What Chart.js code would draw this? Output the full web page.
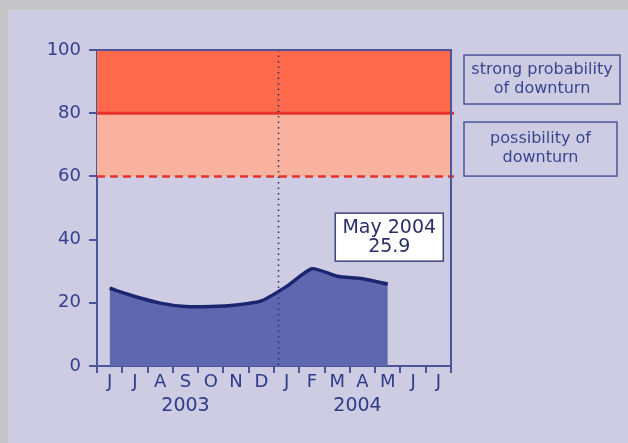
<!DOCTYPE html>
<html>
<head>
<meta charset="utf-8">
<script src="https://cdn.jsdelivr.net/npm/chart.js@4/dist/chart.umd.min.js"></script>
<style>
  html, body { margin: 0; padding: 0; background: #cdcce3; }
  #wrap { width: 628px; height: 443px; position: relative; }
</style>
</head>
<body>
<div id="wrap"><canvas id="grafico" width="628" height="443"></canvas></div>
<script>
// ---- DATA ----
const meses = ["J","J","A","S","O","N","D","J","F","M","A","M","J","J"];
const valores = [24.6, 22.0, 19.9, 18.8, 18.8, 19.3, 20.6, 25.2, 30.8, 28.4, 27.6, 25.9, null, null];
const anos = ["2003", "2004"];
const yTicks = [0, 20, 40, 60, 80, 100];
const zonaForte = [80, 100];
const zonaPossivel = [60, 80];
const legendaForte = ["strong probability", "of downturn"];
const legendaPossivel = ["possibility of", "downturn"];
const nota = ["May 2004", "25.9"];

const AZUL = "#2e3a8a";
const FONTE = "'DejaVu Sans', sans-serif";

// ---- EXTRAS DESENHADOS ----
const extras = {
  id: "extras",
  beforeDraw(chart) {
    const c = chart.ctx;
    c.save();
    c.fillStyle = "#cdcce3";
    c.fillRect(0, 0, chart.width, chart.height);
    c.fillStyle = "#c6c6c8";
    c.fillRect(0, 0, chart.width, 10);
    c.fillRect(0, 0, 8, chart.height);
    c.restore();
  },
  beforeDatasetsDraw(chart) {
    const c = chart.ctx, a = chart.chartArea, y = chart.scales.y;
    c.save();
    // zonas
    c.fillStyle = "#fe6a4b";
    c.fillRect(a.left, y.getPixelForValue(zonaForte[1]), a.right - a.left,
      y.getPixelForValue(zonaForte[0]) - y.getPixelForValue(zonaForte[1]));
    c.fillStyle = "#f8b29e";
    c.fillRect(a.left, y.getPixelForValue(zonaPossivel[1]), a.right - a.left,
      y.getPixelForValue(zonaPossivel[0]) - y.getPixelForValue(zonaPossivel[1]));
    // linha 80
    c.strokeStyle = "#e8322c";
    c.lineWidth = 3;
    c.beginPath();
    c.moveTo(a.left, y.getPixelForValue(zonaForte[0]));
    c.lineTo(a.right + 3, y.getPixelForValue(zonaForte[0]));
    c.stroke();
    // linha 60 tracejada
    c.lineWidth = 2.5;
    c.setLineDash([8, 5]);
    c.beginPath();
    c.moveTo(a.left, y.getPixelForValue(zonaPossivel[0]));
    c.lineTo(a.right + 3, y.getPixelForValue(zonaPossivel[0]));
    c.stroke();
    c.setLineDash([]);
    c.restore();
  },
  afterDatasetsDraw(chart) {
    const c = chart.ctx, a = chart.chartArea, y = chart.scales.y, x = chart.scales.x;
    c.save();
    // linha vertical pontilhada (virada do ano)
    const x6 = x.getPixelForValue(6), x7 = x.getPixelForValue(7);
    const xj = Math.round(x6 + (x7 - x6) * 0.65) + 0.5;
    c.strokeStyle = "#27306f";
    c.lineWidth = 1.5;
    c.setLineDash([1.5, 4]);
    c.beginPath();
    c.moveTo(xj, a.top);
    c.lineTo(xj, a.bottom);
    c.stroke();
    c.setLineDash([]);
    // borda topo e direita
    c.strokeStyle = "#4a559a";
    c.lineWidth = 2;
    c.beginPath();
    c.moveTo(a.left, a.top);
    c.lineTo(a.right, a.top);
    c.lineTo(a.right, a.bottom + 7);
    c.stroke();

    c.textAlign = "center";
    c.textBaseline = "middle";

    // nota May 2004
    const xm = x.getPixelForValue(11) + 1.5;
    const ym = y.getPixelForValue(valores[11]) - 47;
    c.fillStyle = "#ffffff";
    c.fillRect(xm - 54, ym - 24, 108, 48);
    c.strokeStyle = "#3a4583";
    c.lineWidth = 1.5;
    c.strokeRect(xm - 54, ym - 24, 108, 48);
    c.fillStyle = "#2a2f6a";
    c.font = "19px " + FONTE;
    c.fillText(nota[0], xm, ym - 9);
    c.fillText(nota[1], xm, ym + 10);

    // legendas a direita
    const caixa = (linhas, y0, y1, w) => {
      c.strokeStyle = "#4a559a";
      c.lineWidth = 1.5;
      c.strokeRect(a.right + 13, y0, w, y1 - y0);
      c.fillStyle = "#3a4590";
      c.font = "16px " + FONTE;
      const cx = a.right + 13 + w / 2;
      const m = (y0 + y1) / 2;
      c.fillText(linhas[0], cx, m - 10);
      c.fillText(linhas[1], cx, m + 9);
    };
    caixa(legendaForte, y.getPixelForValue(98.4), y.getPixelForValue(82.9), 156);
    caixa(legendaPossivel, y.getPixelForValue(77.2), y.getPixelForValue(60.1), 153);

    // anos
    c.fillStyle = AZUL;
    c.font = "19px " + FONTE;
    c.fillText(anos[0], x.getPixelForValue(3), a.bottom + 40);
    c.fillText(anos[1], x.getPixelForValue(10) - 5, a.bottom + 40);
    c.restore();
  }
};

new Chart(document.getElementById("grafico"), {
  type: "line",
  data: {
    labels: meses,
    datasets: [{
      data: valores,
      borderColor: "#1c2570",
      backgroundColor: "#5f68ae",
      borderWidth: 3.5,
      fill: "origin",
      tension: 0.2,
      pointRadius: 0
    }]
  },
  options: {
    responsive: false,
    animation: false,
    layout: { padding: { left: 37, right: 177, top: 50, bottom: 37 } },
    plugins: { legend: { display: false }, tooltip: { enabled: false } },
    scales: {
      x: {
        offset: true,
        grid: { offset: true, drawOnChartArea: false, drawTicks: true, tickLength: 7, color: "#4a559a", lineWidth: 2 },
        border: { color: "#4a559a", width: 2 },
        ticks: { color: AZUL, font: { size: 18, family: FONTE }, padding: -1, maxRotation: 0, autoSkip: false },
        afterFit: s => { s.height = 40; }
      },
      y: {
        min: 0,
        max: 100,
        afterBuildTicks: s => { s.ticks = yTicks.map(v => ({ value: v })); },
        grid: { drawOnChartArea: false, drawTicks: true, tickLength: 8, color: "#4a559a", lineWidth: 2 },
        border: { color: "#4a559a", width: 2 },
        ticks: { color: "#34408e", font: { size: 18, family: FONTE }, padding: 8 },
        afterFit: s => { s.width = 60; }
      }
    }
  },
  plugins: [extras]
});
</script>
</body>
</html>
